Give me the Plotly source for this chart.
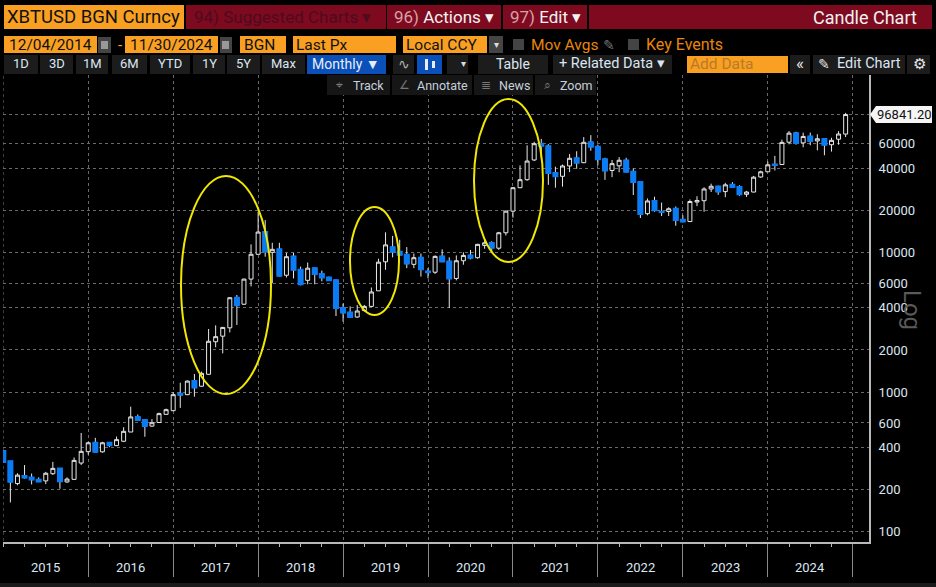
import plotly.graph_objects as go

W, H = 936, 587

# monthly candles, dec 2014 -> nov 2024
opens = [378, 319, 221, 250, 244, 235, 231, 260, 283, 227, 237, 310,
         374, 433, 373, 433, 413, 444, 517, 663, 630, 570, 605, 692,
         735, 970, 957, 1197, 1100, 1339, 2290, 2510, 2880, 4730, 4250, 6430,
         9680, 13960, 10000, 10500, 6850, 9350, 7500, 6300, 7700, 7000, 6600, 6300,
         4000, 3700, 3440, 3830, 4100, 5300, 8550, 10850, 10100, 9600, 8200, 9150,
         7300, 7200, 9350, 8600, 6500, 8700, 9500, 9150, 11200, 11650, 10700, 13800,
         19700, 29000, 33100, 45800, 59900, 57500, 37000, 35000, 41500, 47100, 43800, 61300,
         57000, 46300, 38500, 41600, 45500, 37700, 31800, 18900, 23300, 19500, 19600, 20500,
         17100, 16600, 22900, 23400, 28400, 29600, 27200, 30400, 29300, 26000, 27000, 34600,
         37700, 42500, 42500, 61400, 71300, 60700, 67500, 62700, 64600, 58900, 64500, 70200]
highs = [380, 320, 262, 300, 261, 245, 268, 316, 285, 245, 340, 509,
         440, 470, 440, 436, 480, 560, 785, 690, 638, 640, 712, 760,
         1000, 1165, 1210, 1345, 1400, 2825, 3000, 2920, 4760, 4950, 6470, 11400,
         19500, 17000, 11700, 11700, 9900, 9900, 7900, 8450, 7750, 7400, 6700, 6400,
         4300, 4100, 4200, 4200, 5600, 9000, 13900, 13100, 12300, 10900, 9800, 9800,
         7700, 9500, 10500, 9200, 9500, 10000, 10400, 11500, 12400, 12000, 14000, 19900,
         29300, 41900, 58300, 61800, 64800, 59500, 41000, 42500, 50500, 52900, 66800, 69000,
         59000, 47500, 45800, 48000, 47500, 39800, 32000, 24300, 25000, 22700, 21000, 21300,
         18400, 23900, 25200, 29200, 31000, 30000, 31400, 31800, 30200, 27500, 35200, 38400,
         44700, 49000, 64000, 73800, 72800, 71900, 71900, 70000, 65000, 66000, 73600, 99500]
lows = [312, 162, 215, 240, 218, 226, 219, 255, 203, 224, 236, 300,
        356, 370, 368, 403, 410, 438, 517, 627, 478, 565, 603, 690,
        730, 770, 950, 925, 1090, 1335, 2090, 1890, 2670, 3020, 4200, 5700,
        9650, 9300, 6000, 6700, 6600, 6500, 5800, 5900, 5900, 6200, 6250, 3500,
        3190, 3400, 3400, 3750, 4050, 5300, 7500, 9200, 9500, 7700, 7700, 6700,
        6500, 7000, 8500, 3990, 6300, 8150, 8900, 9000, 10600, 10000, 10400, 13200,
        17700, 28800, 32500, 45000, 47000, 30400, 29000, 29500, 37500, 39600, 43500, 53300,
        42000, 33000, 34500, 37400, 37500, 25700, 17600, 18400, 19500, 18200, 18200, 15500,
        16400, 16500, 21400, 19500, 27000, 25800, 24800, 29000, 25400, 24900, 26900, 34200,
        37600, 38500, 42300, 59300, 59000, 56500, 58400, 53700, 49500, 52600, 58900, 66800]
closes = [315, 228, 254, 244, 236, 229, 262, 284, 230, 238, 324, 376,
          433, 373, 433, 415, 456, 523, 663, 630, 572, 603, 700, 747,
          957, 955, 1197, 1075, 1360, 2307, 2490, 2900, 4730, 4170, 6430, 9680,
          13960, 10150, 10500, 6800, 9300, 7500, 5900, 7700, 7000, 6600, 6300, 4000,
          3700, 3440, 3800, 4100, 5200, 8500, 11300, 10100, 9600, 8300, 9150, 7550,
          7200, 9350, 8600, 6500, 8700, 9500, 9150, 11400, 11700, 10800, 13800, 19700,
          29000, 33100, 45000, 59900, 57800, 37000, 35000, 41500, 47100, 43800, 61300, 57000,
          46300, 38500, 43100, 45600, 37700, 31800, 18800, 23300, 20000, 19400, 20500, 17000,
          16600, 23100, 23500, 28400, 29700, 27200, 30400, 29300, 26000, 27000, 34500, 37700,
          42300, 42100, 61200, 71300, 60600, 67500, 62700, 65000, 58900, 63300, 70300, 96841.2]

years = ['2015', '2016', '2017', '2018', '2019', '2020', '2021', '2022', '2023', '2024']
price_ticks = [100, 200, 400, 600, 1000, 2000, 4000, 6000, 10000, 20000, 40000, 60000]
last_px = 96841.20

months = list(range(len(opens)))
down = [i for i in months if opens[i] > closes[i]]

BLUE = '#0a7cf5'
ORANGE = '#f9a023'
RED = '#7d0a1e'
BTN = '#1c1c1c'
FONT = 'Roboto'
TXT = '#dbe6f2'

################################################
#               CANDLES                        #
################################################
fig = go.Figure()

# all candles first so the wicks stay white
fig.add_trace(go.Candlestick(
    x=months, open=opens, high=highs, low=lows, close=closes,
    increasing={'line': {'color': '#e8e8e8', 'width': 1}, 'fillcolor': '#000000'},
    decreasing={'line': {'color': '#e8e8e8', 'width': 1}, 'fillcolor': BLUE},
    whiskerwidth=0, showlegend=False))

# blue bodies again on top, no wick and no white edge
fig.add_trace(go.Candlestick(
    x=down,
    open=[opens[i] for i in down],
    high=[opens[i] for i in down],
    low=[closes[i] for i in down],
    close=[closes[i] for i in down],
    increasing={'line': {'color': BLUE, 'width': 2}, 'fillcolor': BLUE},
    decreasing={'line': {'color': BLUE, 'width': 2}, 'fillcolor': BLUE},
    whiskerwidth=0, showlegend=False))

# arrow heads in front of the price labels
fig.add_trace(go.Scatter(
    x=[122.75] * len(price_ticks), y=price_ticks, mode='markers', cliponaxis=False,
    marker={'symbol': 'triangle-right', 'size': 7, 'color': '#f0f0f0'},
    showlegend=False, hoverinfo='skip'))

################################################
#               CHROME HELPERS                 #
################################################
shapes = []
notes = []


def rect(x0, y0, x1, y1, color):
    shapes.append(dict(type='rect', xref='paper', yref='paper', x0=x0 / W, x1=x1 / W,
                       y0=1 - y0 / H, y1=1 - y1 / H, fillcolor=color, line_width=0))


def label(x, y, text, size=13, color=TXT, anchor='left', angle=0):
    # annotations carry about 2px of padding on the left
    if anchor == 'left':
        x = x - 2
    notes.append(dict(xref='paper', yref='paper', x=x / W, y=1 - y / H, text=text,
                      showarrow=False, xanchor=anchor, yanchor='middle', textangle=angle,
                      font={'family': FONT, 'size': size, 'color': color}))


def ellipse(x0, y0, x1, y1):
    shapes.append(dict(type='circle', xref='paper', yref='paper', x0=x0 / W, x1=x1 / W,
                       y0=1 - y0 / H, y1=1 - y1 / H, line={'color': '#f0e800', 'width': 2}))


# title bar
rect(4, 5, 184, 29, ORANGE)
label(7, 17, 'XBTUSD BGN Curncy', 18.5, '#111111')
rect(186, 5, 386, 29, RED)
label(194, 17, '94) Suggested Charts ▾', 17, '#4e0a1e')
rect(387, 5, 501, 29, RED)
label(394, 17, '<span style="color:#d8a0a8">96)</span> Actions ▾', 17, '#f2f2f2')
rect(503, 5, 587, 29, RED)
label(510, 17, '<span style="color:#d8a0a8">97)</span> Edit ▾', 17, '#f2f2f2')
rect(589, 5, 932, 29, RED)
label(919, 17, 'Candle Chart', 18, '#f2f2f2', 'right')

# date row
rect(4, 36, 97, 53, ORANGE)
label(9, 45, '12/04/2014', 15.5, '#111111')
rect(98, 37, 111, 53, '#444444')
rect(101, 41, 108, 49, '#999999')
label(120, 45, '-', 15, ORANGE, 'center')
rect(125, 36, 218, 53, ORANGE)
label(130, 45, '11/30/2024', 15.5, '#111111')
rect(220, 37, 232, 53, '#444444')
rect(222, 41, 229, 49, '#999999')
rect(240, 36, 286, 53, ORANGE)
label(244, 45, 'BGN', 15.5, '#111111')
rect(293, 36, 396, 53, ORANGE)
label(296, 45, 'Last Px', 15.5, '#111111')
rect(403, 36, 487, 53, ORANGE)
label(406, 45, 'Local CCY', 15.5, '#111111')
rect(489, 36, 503, 53, '#444444')
label(496, 45, '▾', 10, '#dddddd', 'center')
rect(513, 39, 524, 50, '#444444')
label(531, 45, 'Mov Avgs', 15.5, '#e8860c')
label(609, 45, '✎', 14, '#777777', 'center')
rect(628, 39, 639, 50, '#444444')
label(646, 45, 'Key Events', 16, '#e8860c')

# button row
for x0, x1, t in [(4, 38, '1D'), (40, 73, '3D'), (76, 108, '1M'), (112, 147, '6M'), (150, 190, 'YTD'),
                  (193, 225, '1Y'), (227, 260, '5Y'), (262, 305, 'Max')]:
    rect(x0, 55, x1, 74, BTN)
    label((x0 + x1) / 2, 64, t, 13, TXT, 'center')
rect(307, 55, 386, 74, '#0a50b8')
label(346, 64, 'Monthly ▼', 14, '#e8eef8', 'center')
rect(393, 55, 414, 74, BTN)
label(404, 64, '∿', 14, '#aaaaaa', 'center')
rect(417, 55, 442, 74, '#0a50b8')
rect(425, 59, 428, 70, '#e8eef8')
rect(432, 61, 435, 68, '#e8eef8')
rect(447, 55, 468, 74, BTN)
label(463, 64, '▾', 10, '#dddddd', 'center')
rect(478, 55, 548, 74, BTN)
label(513, 64, 'Table', 14, TXT, 'center')
rect(553, 55, 672, 74, BTN)
label(612, 64, '+ Related Data ▾', 14.5, TXT, 'center')
rect(687, 56, 788, 73, ORANGE)
label(690, 64, 'Add Data', 15.5, '#b87a28')
rect(790, 55, 810, 74, BTN)
label(800, 63, '«', 17, '#e8e8e8', 'center')
rect(813, 55, 905, 74, BTN)
label(824, 64, '✎', 14, '#e8e8e8', 'center')
label(837, 64, 'Edit Chart', 14.5, TXT)
rect(907, 55, 930, 74, BTN)
label(919, 64, '⚙', 15, '#e8e8e8', 'center')

# chart tools row
for x0, x1, ic, t, tx in [(327, 390, '⌖', 'Track', 353), (392, 472, '∠', 'Annotate', 417),
                          (474, 533, '≣', 'News', 499), (535, 596, '⌕', 'Zoom', 560)]:
    rect(x0, 75, x1, 95, '#161616')
    label(x0 + 12, 85, ic, 12, '#777777', 'center')
    label(tx, 85, t, 12.5, '#c6d0dc')

# last price flag
shapes.append(dict(type='path', xref='paper', yref='paper', line_width=0, fillcolor='#f5f5f5',
                   path='M {} {} L {} {} L {} {} L {} {} L {} {} Z'.format(
                       870 / W, 1 - 114.5 / H, 876 / W, 1 - 106 / H, 932 / W, 1 - 106 / H,
                       932 / W, 1 - 123 / H, 876 / W, 1 - 123 / H)))
notes.append(dict(xref='paper', yref='y', x=904 / W, y=4.986, text='{:.2f}'.format(last_px), showarrow=False,
                  xanchor='center', yanchor='middle', font={'family': FONT, 'size': 13, 'color': '#111111'}))

label(912, 310, 'Log', 24, '#5a5a5a', 'center', 90)
rect(0, 583, W, H, '#1a1a1a')

# the three bull runs
ellipse(181, 176, 271, 394)
ellipse(350, 207, 399, 315)
ellipse(474, 99, 543, 262)

# year names sit mid-year under the axis, left dotted line has no long tick
for i, y in enumerate(years):
    notes.append(dict(xref='x', yref='paper', x=6 + 12 * i, y=1 - 567 / H, text=y, showarrow=False,
                      xanchor='center', yanchor='middle', font={'family': FONT, 'size': 13, 'color': TXT}))
shapes.append(dict(type='line', xref='x', yref='paper', x0=0, x1=0, y0=1 - 541 / H, y1=1 - 75 / H,
                   layer='below', line={'color': '#6a6a6a', 'width': 1, 'dash': 'dot'}))

################################################
#               LAYOUT                         #
################################################
fig.update_layout(
    width=W, height=H, margin={'l': 0, 'r': 0, 't': 0, 'b': 0},
    paper_bgcolor='#000000', plot_bgcolor='#000000', showlegend=False,
    boxmode='overlay', boxgap=0.2,
    shapes=shapes, annotations=notes,
    xaxis={'domain': [3.3 / W, 869 / W], 'range': [0, 122.3], 'rangeslider': {'visible': False},
           'tickmode': 'array', 'tickvals': list(range(12, 121, 12)), 'ticktext': [''] * 10,
           'ticks': 'outside', 'ticklen': 33, 'tickwidth': 1, 'tickcolor': '#8a8a8a',
           'showline': True, 'linecolor': '#b8b8b8', 'linewidth': 2,
           'showgrid': True, 'gridcolor': '#6a6a6a', 'griddash': 'dot', 'gridwidth': 1, 'zeroline': False,
           'minor': {'tickmode': 'linear', 'tick0': 0, 'dtick': 3, 'ticks': 'outside', 'ticklen': 3,
                     'tickcolor': '#b8b8b8', 'showgrid': False}},
    yaxis={'domain': [1 - 541.7 / H, 1 - 75 / H], 'type': 'log', 'range': [1.9284, 5.2692], 'side': 'right',
           'tickmode': 'array', 'tickvals': price_ticks + [last_px],
           'ticktext': [str(v) for v in price_ticks] + [''],
           'tickfont': {'family': FONT, 'size': 13, 'color': TXT},
           'ticks': 'outside', 'ticklen': 5, 'tickcolor': 'rgba(0,0,0,0)',
           'showline': True, 'linecolor': '#b8b8b8', 'linewidth': 2,
           'showgrid': True, 'gridcolor': '#6a6a6a', 'griddash': 'dot', 'gridwidth': 1, 'zeroline': False},
)

# drop the default page margin so the window shows only the chart
fig.write_html("out.html", post_script="document.body.style.margin='0';document.body.style.background='#000';document.body.style.overflow='hidden';",
               config={'displayModeBar': False})
